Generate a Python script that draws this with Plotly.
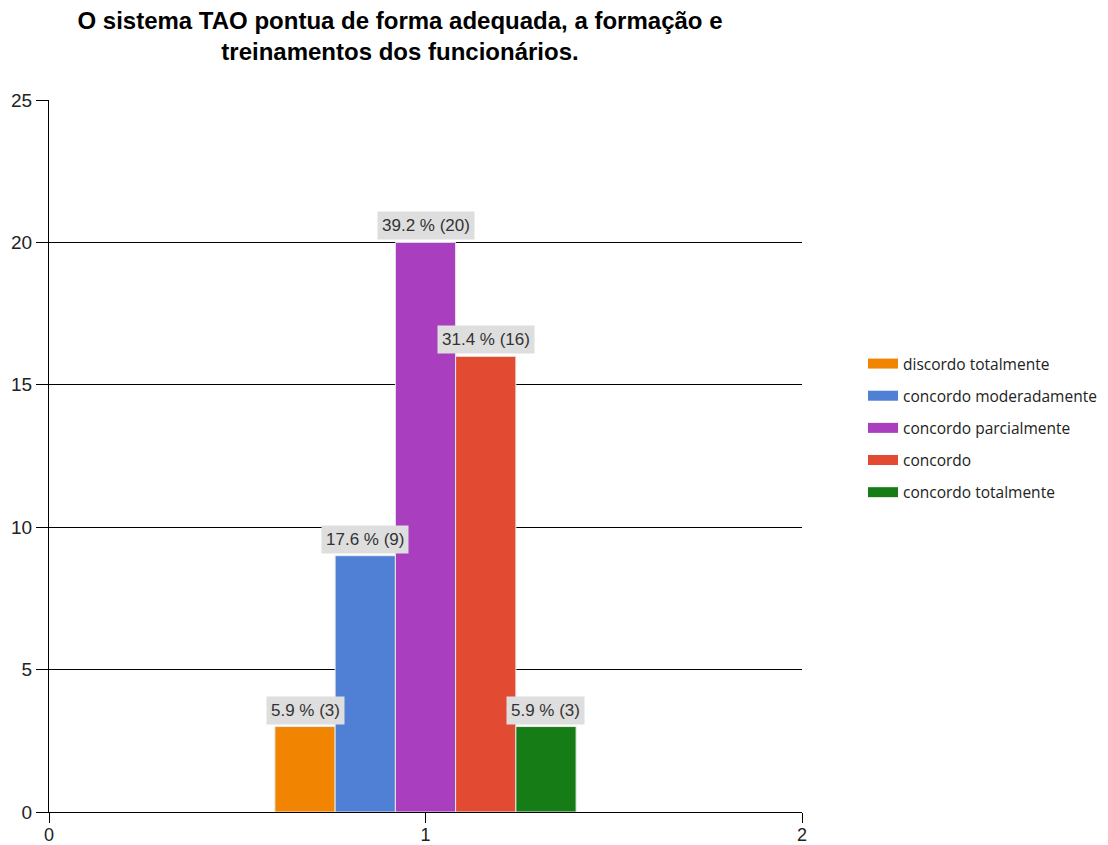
import plotly.graph_objects as go

title = "O sistema TAO pontua de forma adequada, a formação e<br>treinamentos dos funcionários."
categories = ["discordo totalmente", "concordo moderadamente", "concordo parcialmente", "concordo", "concordo totalmente"]
counts = [3, 9, 20, 16, 3]
percents = [5.9, 17.6, 39.2, 31.4, 5.9]
colors = ["#F18400", "#4F80D6", "#A93FBE", "#E24A31", "#167D16"]
x_pos = 1
group_width = 0.8

fig = go.Figure()
for cat, c, col in zip(categories, counts, colors):
    fig.add_trace(go.Bar(
        x=[x_pos], y=[c], name=cat, marker=dict(color=col, line=dict(color="#E8E8E8", width=1)),
        showlegend=False, hoverinfo="skip",
    ))
# legend entries drawn as wide swatches
for cat, col in zip(categories, colors):
    fig.add_trace(go.Scatter(
        x=[None], y=[None], mode="lines", name=cat, legendgroup=cat,
        line=dict(color=col, width=13), hoverinfo="skip",
    ))

n = len(categories)
bw = group_width / n
for i, (c, p) in enumerate(zip(counts, percents)):
    xc = x_pos - group_width / 2 + bw * (i + 0.5)
    fig.add_annotation(
        x=xc, y=c, xref="x", yref="y", text=f"{p} % ({c})", showarrow=False,
        yanchor="bottom", yshift=2, bgcolor="#DEDEDE", borderpad=4,
        font=dict(family="Liberation Sans, Arial", size=17, color="#333333"),
    )

tickfont = dict(family="Liberation Sans, Arial", size=19, color="#222")
fig.update_layout(
    width=1108, height=845,
    margin=dict(l=41, r=314, t=92, b=41, autoexpand=False),
    paper_bgcolor="white", plot_bgcolor="white",
    barmode="group", bargap=0.2, bargroupgap=0,
    title=dict(text=title, x=392 / 1108, xanchor="center", xref="container",
               yref="container", y=1 - 21 / 845, yanchor="top",
               font=dict(family="Liberation Sans, Arial", size=24, color="black", weight="bold")),
    xaxis=dict(range=[0, 2], tickvals=[0, 1, 2], showgrid=False, zeroline=False, automargin=False,
               showline=True, linecolor="black", linewidth=1, ticks="outside", ticklen=10, tickcolor="black",
               ticklabelstandoff=-4, tickfont=dict(family="Liberation Sans, Arial", size=18, color="#222")),
    yaxis=dict(range=[0, 25], dtick=5, showgrid=True, gridcolor="black", gridwidth=1, zeroline=False,
               automargin=False,
               showline=True, linecolor="black", linewidth=1, ticks="outside", ticklen=12, tickcolor="black",
               tickfont=tickfont),
    legend=dict(xref="container", yref="container", x=855 / 1108, y=1 - 339 / 845,
                xanchor="left", yanchor="top",
                font=dict(family="Open Sans, Noto Sans", size=15.5, color="#222"),
                tracegroupgap=9),
    showlegend=True,
)
fig.write_html("out.html")
